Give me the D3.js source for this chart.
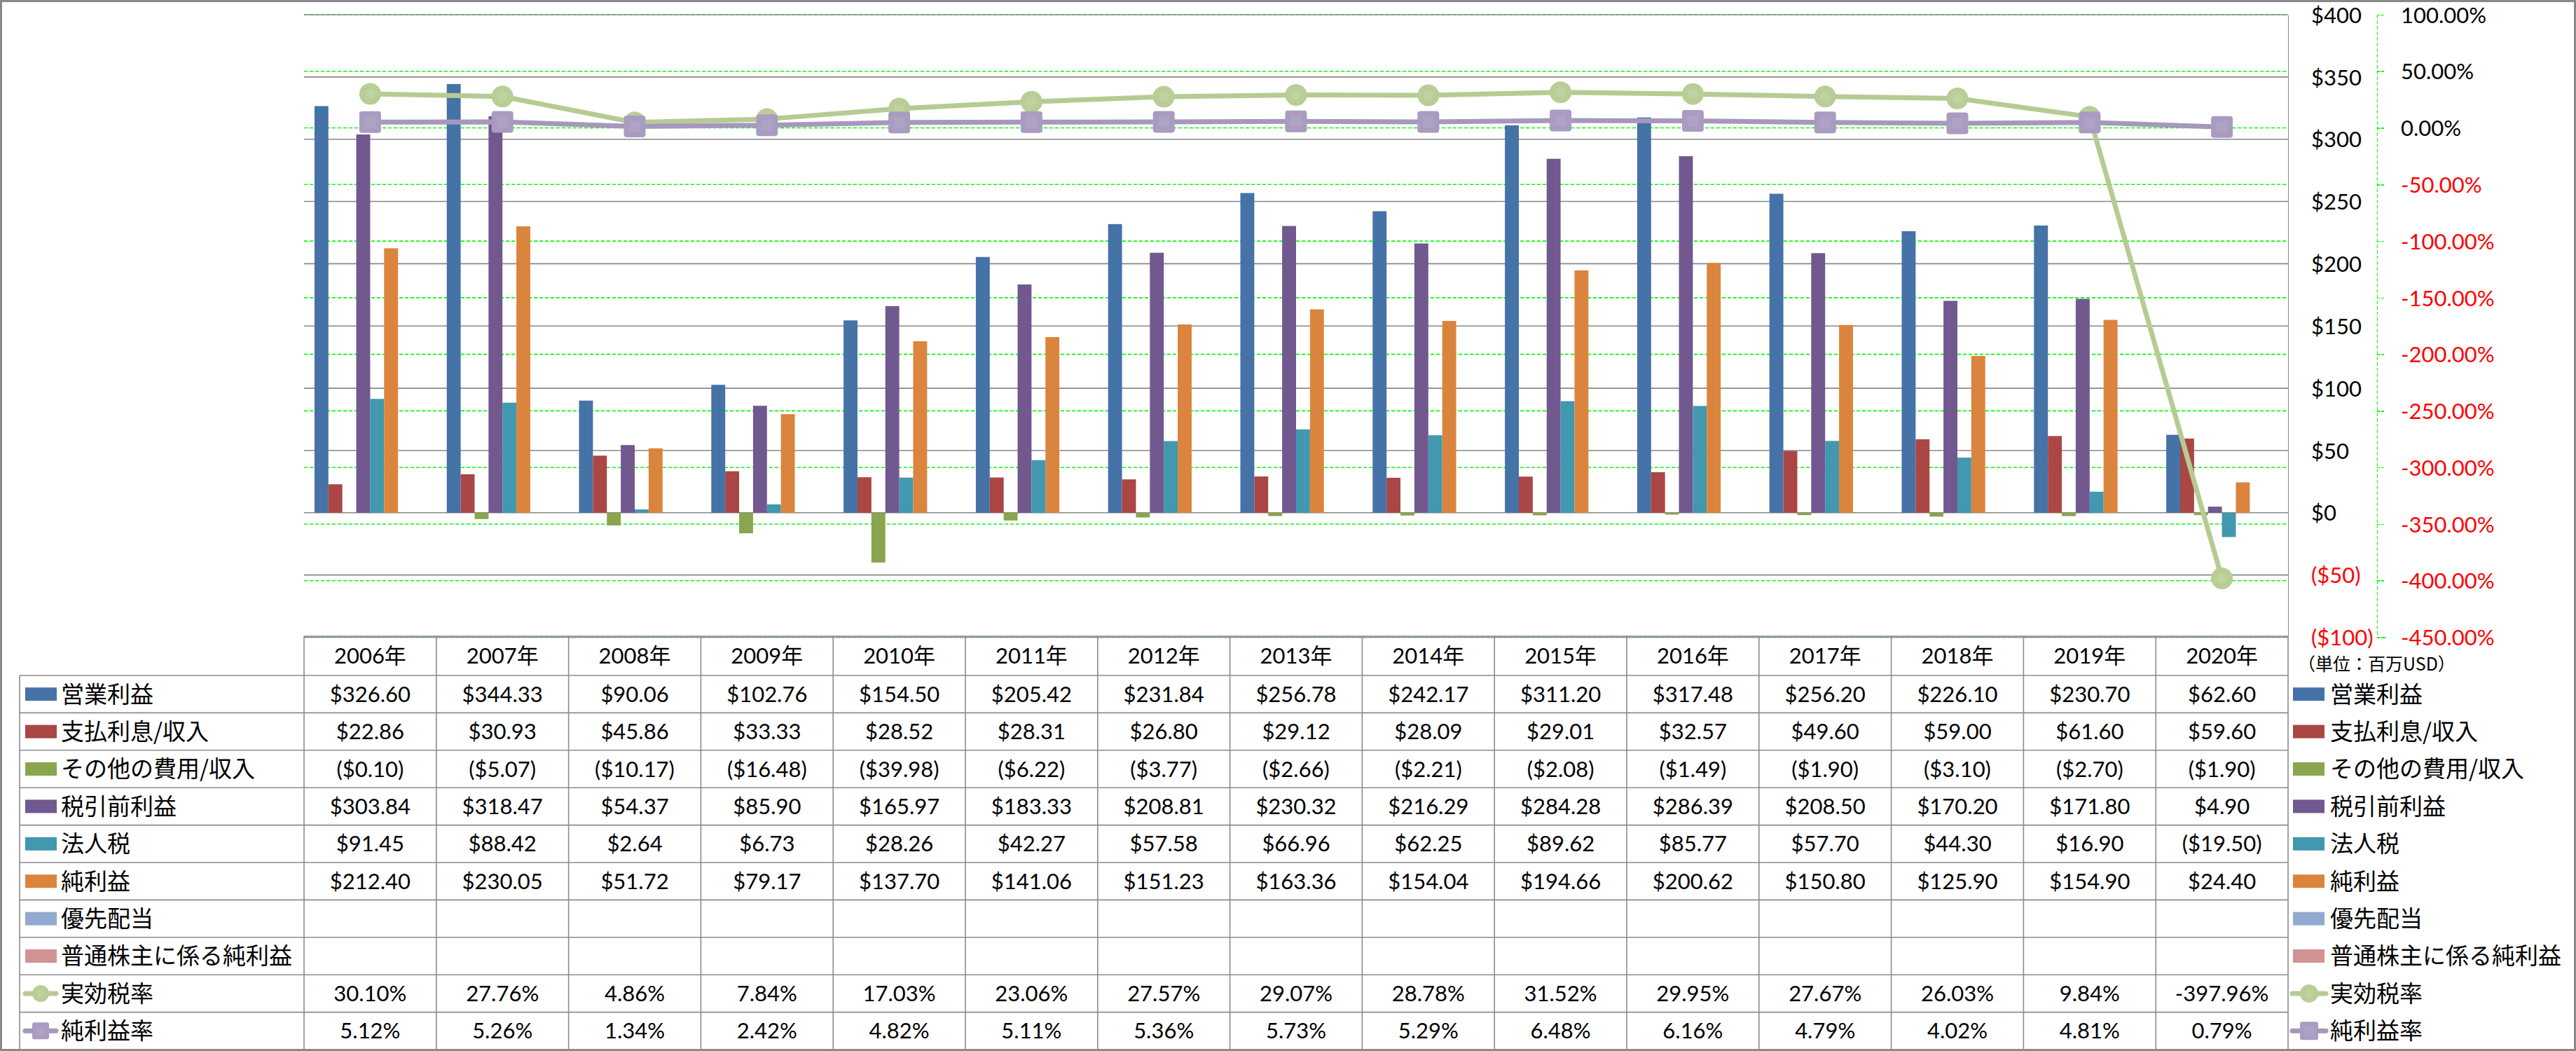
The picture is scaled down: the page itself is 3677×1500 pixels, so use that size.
<!DOCTYPE html>
<html>
<head>
<meta charset="utf-8">
<script src="https://cdn.jsdelivr.net/npm/d3@7"></script>
<style>
  html, body { margin: 0; padding: 0; background: #fff; }
  svg { display: block; }
  .num { font-family: Lato, "Noto Sans CJK JP", sans-serif; }
  .cjk { font-family: "Noto Sans CJK JP", sans-serif; }
</style>
</head>
<body>
<svg id="chart" width="3677" height="1500"></svg>
<script>
// ---------------- data ----------------
const years = ['2006年','2007年','2008年','2009年','2010年','2011年','2012年','2013年','2014年','2015年','2016年','2017年','2018年','2019年','2020年'];
const seriesNames = ['営業利益','支払利息/収入','その他の費用/収入','税引前利益','法人税','純利益','優先配当','普通株主に係る純利益'];
const opIncome  = [326.60, 344.33, 90.06, 102.76, 154.50, 205.42, 231.84, 256.78, 242.17, 311.20, 317.48, 256.20, 226.10, 230.70, 62.60];
const interest  = [22.86, 30.93, 45.86, 33.33, 28.52, 28.31, 26.80, 29.12, 28.09, 29.01, 32.57, 49.60, 59.00, 61.60, 59.60];
const otherExp  = [-0.10, -5.07, -10.17, -16.48, -39.98, -6.22, -3.77, -2.66, -2.21, -2.08, -1.49, -1.90, -3.10, -2.70, -1.90];
const pretax    = [303.84, 318.47, 54.37, 85.90, 165.97, 183.33, 208.81, 230.32, 216.29, 284.28, 286.39, 208.50, 170.20, 171.80, 4.90];
const incomeTax = [91.45, 88.42, 2.64, 6.73, 28.26, 42.27, 57.58, 66.96, 62.25, 89.62, 85.77, 57.70, 44.30, 16.90, -19.50];
const netIncome = [212.40, 230.05, 51.72, 79.17, 137.70, 141.06, 151.23, 163.36, 154.04, 194.66, 200.62, 150.80, 125.90, 154.90, 24.40];
const prefDiv   = [null, null, null, null, null, null, null, null, null, null, null, null, null, null, null];
const commonNI  = [null, null, null, null, null, null, null, null, null, null, null, null, null, null, null];
const lineNames = ['実効税率','純利益率'];
const effTaxRate = [30.10, 27.76, 4.86, 7.84, 17.03, 23.06, 27.57, 29.07, 28.78, 31.52, 29.95, 27.67, 26.03, 9.84, -397.96];
const netMargin  = [5.12, 5.26, 1.34, 2.42, 4.82, 5.11, 5.36, 5.73, 5.29, 6.48, 6.16, 4.79, 4.02, 4.81, 0.79];
const dollarTicks  = [-100, -50, 0, 50, 100, 150, 200, 250, 300, 350, 400];
const percentTicks = [-450, -400, -350, -300, -250, -200, -150, -100, -50, 0, 50, 100];
const unitLabel = '（単位：百万USD）';

const barSeries = [opIncome, interest, otherExp, pretax, incomeTax, netIncome, prefDiv, commonNI];
const barColors = ['#4572A7','#AA4643','#89A54E','#71588F','#4198AF','#DB843D','#93A9CF','#D19392'];
const lineSeries = [effTaxRate, netMargin];
const lineColors = ['#B6CB93','#A698BD'];
const markerFill = ['#B9CD96','#A99CC0'];
const markerInner = ['#C0D29F','#AEA2C5'];

// ---------------- layout ----------------
const W = 3677, H = 1500;
const plotL = 434, plotR = 3266, plotT = 21, plotB = 909.5;
const tableTop = 908, headBottom = 964, tableBottom = 1498, labelL = 28;
const rowH = (tableBottom - headBottom) / 10;
const pctAxisX = 3393;

const svg = d3.select('#chart');

const x = d3.scaleBand().domain(years).range([plotL, plotR]).padding(0);
const bw = x.bandwidth();
const xi = d3.scaleBand().domain(d3.range(8)).range([bw * 0.75 / 9.5, bw - bw * 0.75 / 9.5]).padding(0);
const yL = d3.scaleLinear().domain([-100, 400]).range([plotB, plotT]);
const yR = d3.scaleLinear().domain([-450, 100]).range([plotB, plotT]);

// outer border
svg.append('rect').attr('x', 1.5).attr('y', 1.5).attr('width', W - 3).attr('height', H - 3)
  .attr('fill', 'none').attr('stroke', '#888').attr('stroke-width', 3);

// green dotted gridlines (secondary axis)
svg.append('g').selectAll('line').data(percentTicks).join('line')
  .attr('x1', plotL).attr('x2', plotR)
  .attr('y1', d => yR(d)).attr('y2', d => yR(d))
  .attr('stroke', '#00FF00').attr('stroke-width', 1.6).attr('stroke-dasharray', '5,3');

// gray gridlines (primary axis)
svg.append('g').selectAll('line').data(dollarTicks).join('line')
  .attr('x1', plotL).attr('x2', plotR)
  .attr('y1', d => yL(d)).attr('y2', d => yL(d))
  .attr('stroke', '#888').attr('stroke-width', 1.6);

// bars
const barG = svg.append('g');
barSeries.forEach((vals, si) => {
  barG.append('g').selectAll('rect')
    .data(vals.map((v, i) => ({ v, year: years[i] })).filter(d => d.v !== null))
    .join('rect')
    .attr('x', d => x(d.year) + xi(si))
    .attr('width', xi.bandwidth())
    .attr('y', d => Math.min(yL(0), yL(d.v)))
    .attr('height', d => Math.abs(yL(d.v) - yL(0)))
    .attr('fill', barColors[si]);
});

// lines
function drawMarker(g, si, cx, cy, size) {
  if (si === 0) {
    g.append('circle').attr('cx', cx).attr('cy', cy).attr('r', size / 2).attr('fill', markerFill[si]);
    g.append('circle').attr('cx', cx).attr('cy', cy).attr('r', size / 4.2).attr('fill', markerInner[si]);
  } else {
    g.append('rect').attr('x', cx - size / 2).attr('y', cy - size / 2).attr('width', size).attr('height', size)
      .attr('rx', size * 0.13).attr('fill', markerFill[si]);
    g.append('rect').attr('x', cx - size / 4).attr('y', cy - size / 4).attr('width', size / 2).attr('height', size / 2)
      .attr('fill', markerInner[si]);
  }
}
const lineGen = d3.line().x(d => x(d.year) + bw / 2).y(d => yR(d.v));
lineSeries.forEach((vals, si) => {
  const data = vals.map((v, i) => ({ v, year: years[i] }));
  const g = svg.append('g');
  g.append('path').datum(data).attr('d', lineGen)
    .attr('fill', 'none').attr('stroke', lineColors[si]).attr('stroke-width', 7).attr('stroke-linejoin', 'round');
  data.forEach(d => drawMarker(g, si, x(d.year) + bw / 2, yR(d.v), 31));
});

// primary axis (right side of plot)
const fmtDollarTick = v => v < 0 ? `($${-v})` : `$${v}`;
const axL = svg.append('g').attr('transform', `translate(${plotR},0)`)
  .call(d3.axisRight(yL).tickValues(dollarTicks).tickSize(0).tickPadding(33).tickFormat(fmtDollarTick));
axL.select('.domain').attr('stroke', '#888').attr('stroke-width', 1.6);
axL.selectAll('text').attr('class', 'num').attr('font-size', 31).attr('fill', d => d < 0 ? '#FF0000' : '#000').attr('dy', '0.36em');

// secondary axis
const fmtPct = v => v.toFixed(2) + '%';
const axR = svg.append('g').attr('transform', `translate(${pctAxisX},0)`)
  .call(d3.axisRight(yR).tickValues(percentTicks).tickSize(12).tickPadding(22).tickFormat(fmtPct));
axR.select('.domain').attr('stroke', '#00FF00').attr('stroke-width', 1.6).attr('stroke-dasharray', '5,3');
axR.selectAll('.tick line').attr('stroke', '#00FF00').attr('stroke-width', 1.6).attr('stroke-dasharray', '4,2');
axR.selectAll('text').attr('class', 'num').attr('font-size', 31).attr('fill', d => d < 0 ? '#FF0000' : '#000').attr('dy', '0.36em');
svg.selectAll('.domain, .tick line').attr('shape-rendering', 'crispEdges');

// unit label
svg.append('text').attr('class', 'cjk').attr('x', 3280).attr('y', 948).attr('dy', '0.36em')
  .attr('font-size', 25).attr('fill', '#000').text(unitLabel);

// ---------------- data table ----------------
const tbl = svg.append('g');
const stroke = '#8c8c8c';
// horizontal lines
tbl.append('line').attr('x1', plotL).attr('x2', plotR).attr('y1', tableTop).attr('y2', tableTop)
  .attr('stroke', stroke).attr('stroke-width', 1.6);
d3.range(11).forEach(i => {
  const yy = headBottom + i * rowH;
  tbl.append('line').attr('x1', labelL).attr('x2', plotR).attr('y1', yy).attr('y2', yy)
    .attr('stroke', stroke).attr('stroke-width', 1.6);
});
// vertical lines
tbl.append('line').attr('x1', labelL).attr('x2', labelL).attr('y1', headBottom).attr('y2', tableBottom)
  .attr('stroke', stroke).attr('stroke-width', 1.6);
years.forEach(yr => {
  tbl.append('line').attr('x1', x(yr)).attr('x2', x(yr)).attr('y1', tableTop).attr('y2', tableBottom)
    .attr('stroke', stroke).attr('stroke-width', 1.6);
});
tbl.append('line').attr('x1', plotR).attr('x2', plotR).attr('y1', tableTop).attr('y2', tableBottom)
  .attr('stroke', stroke).attr('stroke-width', 1.6);

// header
tbl.selectAll('text.hdr').data(years).join('text').attr('class', 'num hdr')
  .attr('x', d => x(d) + bw / 2).attr('y', (tableTop + headBottom) / 2).attr('dy', '0.36em')
  .attr('text-anchor', 'middle').attr('font-size', 31).attr('fill', '#000').text(d => d);

const fmtDollar = v => v === null ? '' : (v < 0 ? `($${(-v).toFixed(2)})` : `$${v.toFixed(2)}`);
const rowsAll = barSeries.map(s => s.map(fmtDollar)).concat(lineSeries.map(s => s.map(fmtPct)));
const namesAll = seriesNames.concat(lineNames);

function legendKey(g, idx, kx, cy, lineStart, lineEnd, msize) {
  if (idx < 8) {
    g.append('rect').attr('x', kx).attr('y', cy - 9.5).attr('width', 45).attr('height', 19).attr('fill', barColors[idx]);
  } else {
    const si = idx - 8;
    g.append('line').attr('x1', lineStart).attr('x2', lineEnd).attr('y1', cy).attr('y2', cy)
      .attr('stroke', lineColors[si]).attr('stroke-width', 7).attr('stroke-linecap', 'round');
    drawMarker(g, si, (lineStart + lineEnd) / 2, cy, msize);
  }
}

rowsAll.forEach((row, ri) => {
  const cy = headBottom + (ri + 0.5) * rowH;
  // left label with key
  legendKey(tbl, ri, 36, cy, 36, 80, 24);
  tbl.append('text').attr('class', 'cjk').attr('x', 87).attr('y', cy).attr('dy', '0.36em')
    .attr('font-size', 33).attr('fill', '#000').text(namesAll[ri]);
  // values
  tbl.append('g').selectAll('text').data(row).join('text').attr('class', 'num')
    .attr('x', (d, i) => x(years[i]) + bw / 2).attr('y', cy).attr('dy', '0.36em')
    .attr('text-anchor', 'middle').attr('font-size', 31).attr('fill', '#000').text(d => d);
  // right legend
  legendKey(svg, ri, 3273, cy, 3272, 3320, 26);
  svg.append('text').attr('class', 'cjk').attr('x', 3326).attr('y', cy).attr('dy', '0.36em')
    .attr('font-size', 33).attr('fill', '#000').text(namesAll[ri]);
});
</script>
</body>
</html>
